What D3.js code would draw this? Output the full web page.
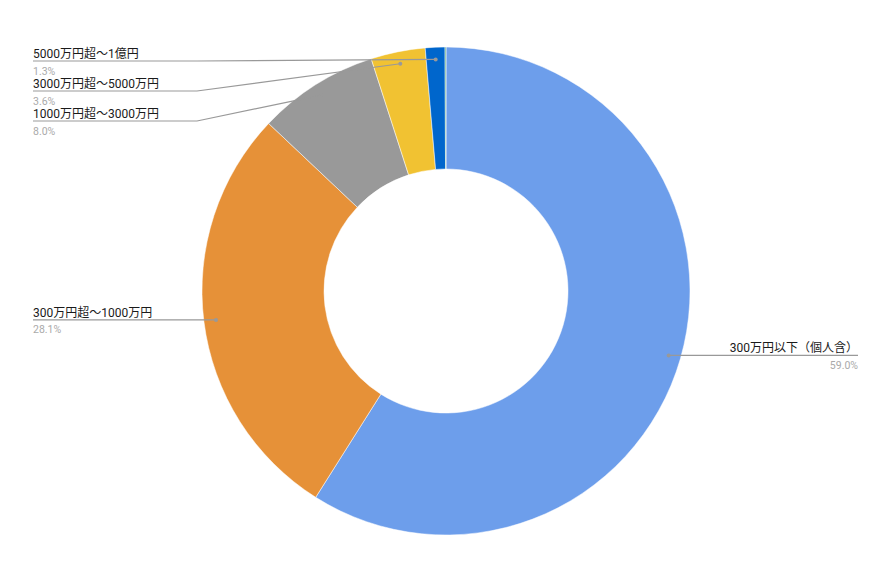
<!DOCTYPE html>
<html>
<head>
<meta charset="utf-8">
<script src="https://cdn.jsdelivr.net/npm/d3@7"></script>
<style>
  body { margin: 0; background: #fff; }
  svg { display: block; font-family: Roboto, "Noto Sans CJK JP", sans-serif; }
</style>
</head>
<body>
<svg width="892" height="564"></svg>
<script>
// donut of company size (capital) shares

const categories = [
  "300万円以下（個人含）",
  "300万円超～1000万円",
  "1000万円超～3000万円",
  "3000万円超～5000万円",
  "5000万円超～1億円",
  "1億円超"
];
const values = [59.0, 28.1, 8.0, 3.6, 1.3, 0.06];
const pctLabels = ["59.0%", "28.1%", "8.0%", "3.6%", "1.3%", ""];
const colors = ["#6d9eeb", "#e69138", "#999999", "#f1c232", "#0066cc", "#3d9e5a"];

const cx = 446;
const cy = 291;
const outerR = 244;
const innerR = 122;

const svg = d3.select("svg");
const g = svg.append("g").attr("transform", `translate(${cx},${cy})`);

const data = categories.map((c, i) => ({ name: c, value: values[i], pct: pctLabels[i], color: colors[i] }));

const pie = d3.pie().value((d) => d.value).sort(null);
const arcs = pie(data);

const arc = d3.arc().innerRadius(innerR).outerRadius(outerR);
const anchorArc = d3.arc().innerRadius(outerR * 0.95).outerRadius(outerR * 0.95);

g.selectAll("path.slice")
  .data(arcs)
  .enter()
  .append("path")
  .attr("class", "slice")
  .attr("d", arc)
  .attr("fill", (d) => d.data.color)
  .attr("stroke", "#fff")
  .attr("stroke-width", 0.5);

// labels: the big two sit level with their anchor, the small ones stack at the top-left
const labelled = arcs.filter((d) => d.data.pct !== "");
const small = labelled.filter((d) => d.data.value < 10).reverse();

labelled.forEach((d) => {
  const [ax, ay] = anchorArc.centroid(d);
  const px = cx + ax;
  const py = cy + ay;
  const mid = (d.startAngle + d.endAngle) / 2;
  const right = mid < Math.PI;
  let lineY = py;
  if (d.data.value < 10) {
    lineY = 61 + 30 * small.indexOf(d);
  }
  let pts;
  let tx;
  let anchor;
  if (right) {
    tx = 858;
    anchor = "end";
    pts = [[px, py], [tx, lineY]];
  } else {
    tx = 33;
    anchor = "start";
    const kx = Math.min(px, 197);
    pts = [[tx, lineY], [kx, lineY], [px, py]];
  }

  svg.append("path")
    .attr("d", d3.line()(pts))
    .attr("fill", "none")
    .attr("stroke", "#999")
    .attr("stroke-width", 1.2);

  svg.append("circle")
    .attr("cx", px)
    .attr("cy", py)
    .attr("r", 2)
    .attr("fill", "#999");

  svg.append("text")
    .attr("x", tx)
    .attr("y", lineY - 3)
    .attr("text-anchor", anchor)
    .attr("font-size", 12)
    .attr("fill", "#1a1a1a")
    .text(d.data.name);

  svg.append("text")
    .attr("x", tx)
    .attr("y", lineY + 13.5)
    .attr("text-anchor", anchor)
    .attr("font-size", 10.5)
    .attr("fill", "#aaa")
    .text(d.data.pct);
});
</script>
</body>
</html>
